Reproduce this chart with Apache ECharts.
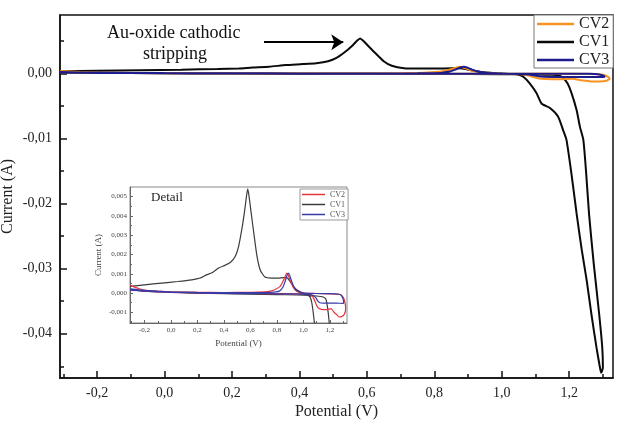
<!DOCTYPE html>
<html>
<head>
<meta charset="utf-8">
<script src="https://cdn.jsdelivr.net/npm/echarts@6/dist/echarts.min.js"></script>
<style>
  html, body { margin: 0; padding: 0; background: #fff; }
  #chart { width: 619px; height: 428px; }
</style>
</head>
<body>
<div id="chart"></div>
<script>
// CV1 (first cycle) - potential (V) / current (A)
const cv1Potential = [-0.31, -0.2, -0.07, 0.05, 0.157, 0.22, 0.26, 0.31, 0.36, 0.41, 0.45, 0.485, 0.51, 0.535, 0.555, 0.57, 0.58, 0.59, 0.605, 0.624, 0.65, 0.674, 0.71, 0.76, 0.81, 0.85, 0.875, 0.9, 0.94, 0.98, 1.02, 1.05,
  1.064, 1.083, 1.103, 1.118, 1.143, 1.167, 1.182, 1.192, 1.207, 1.222, 1.237, 1.252, 1.266, 1.281, 1.29, 1.295,
  1.3, 1.298, 1.289, 1.273, 1.259, 1.25, 1.242, 1.232, 1.222, 1.207, 1.195, 1.182, 1.17, 1.15,
  1.1, 1.0, 0.8, 0.6, 0.4, 0.2, 0.0, -0.2, -0.31]
const cv1Current = [0.00035, 0.00043, 0.00052, 0.0006, 0.00069, 0.00078, 0.00092, 0.00105, 0.0013, 0.00145, 0.0016, 0.0019, 0.0024, 0.0033, 0.0042, 0.005, 0.0054, 0.005, 0.0042, 0.0032, 0.0019, 0.0012, 0.00083, 0.00078, 0.00078, 0.0008, 0.0008, 0.0006, 0.00023, 0.00005, -0.00005, -0.0002,
  -0.0005, -0.0015, -0.003, -0.0046, -0.0053, -0.0066, -0.0087, -0.0102, -0.0155, -0.0215, -0.027, -0.0318, -0.037, -0.0421, -0.0448, -0.046,
  -0.0452, -0.042, -0.037, -0.0293, -0.0216, -0.015, -0.0102, -0.0082, -0.0056, -0.003, -0.0015, -0.0007, -0.0003, -0.0002,
  -0.00015, -0.0001, -0.00008, -0.00005, -0.00003, 0.0, 0.00005, 0.0001, 0.00018]

// CV2
const cv2Potential = [-0.31, -0.25, -0.2, -0.1, 0.0, 0.2, 0.4, 0.6, 0.7, 0.75, 0.79, 0.825, 0.85, 0.865, 0.875, 0.888, 0.9, 0.92, 0.94, 0.97, 1.0, 1.1, 1.2, 1.27, 1.3, 1.315, 1.32, 1.31, 1.29, 1.27, 1.25, 1.23, 1.21, 1.17, 1.13, 1.11, 1.095, 1.08, 1.06, 1.0, 0.8, 0.6, 0.4, 0.2, 0.0, -0.2, -0.31]
const cv2Current = [0.0004, 0.00025, 0.00015, 0.0001, 0.00007, 0.00004, 0.00003, 0.00004, 0.00006, 0.0001, 0.0002, 0.00035, 0.00066, 0.0009, 0.00104, 0.0009, 0.00066, 0.00035, 0.00015, 0.00004, 0.0, -0.00002, -0.00004, -0.00006, -0.0002, -0.0005, -0.0008, -0.0011, -0.00122, -0.00124, -0.0011, -0.00098, -0.0008, -0.00086, -0.00083, -0.00075, -0.00055, -0.0003, -0.0001, -0.00004, -0.00003, -0.00002, -0.00001, 0.0, 0.00004, 0.0001, 0.0002]

// CV3
const cv3Potential = [-0.31, -0.2, -0.1, 0.0, 0.2, 0.4, 0.6, 0.75, 0.82, 0.845, 0.862, 0.877, 0.887, 0.897, 0.912, 0.93, 0.95, 0.98, 1.0, 1.1, 1.2, 1.26, 1.285, 1.3, 1.305, 1.3, 1.25, 1.2, 1.15, 1.125, 1.11, 1.095, 1.07, 1.0, 0.8, 0.6, 0.4, 0.2, 0.0, -0.2, -0.31]
const cv3Current = [0.00022, 0.00014, 0.0001, 0.00007, 0.00004, 0.00002, 0.00002, 0.00004, 0.0001, 0.0003, 0.0006, 0.00092, 0.00104, 0.00092, 0.0006, 0.0003, 0.00013, 0.00003, 0.0, -0.00002, -0.00003, -0.00005, -0.0001, -0.0003, -0.0005, -0.00053, -0.00052, -0.00052, -0.00052, -0.0005, -0.00042, -0.00025, -0.0001, -0.00005, -0.00004, -0.00003, -0.00002, 0.0, 0.00004, 0.0001, 0.00015]

// tick values
const xTicks = [-0.2, 0, 0.2, 0.4, 0.6, 0.8, 1.0, 1.2]
const xMinorTicks = [-0.3, -0.1, 0.1, 0.3, 0.5, 0.7, 0.9, 1.1, 1.3]
const mainYTicks = [0, -0.01, -0.02, -0.03, -0.04]
const mainYMinorTicks = [0.005, -0.005, -0.015, -0.025, -0.035, -0.045]
const insetYTicks = [-0.001, 0, 0.001, 0.002, 0.003, 0.004, 0.005]
const insetYMinorTicks = [-0.0015, -0.0005, 0.0005, 0.0015, 0.0025, 0.0035, 0.0045]

// arrow of the annotation (data coords)
const arrowFrom = [0.295, 0.00483]
const arrowTo = [0.53, 0.00483]

const serif = 'Liberation Serif'
const comma = d => v => v.toFixed(d).replace('.', ',').replace(/^-0,0+$/, m => m.slice(1))
const pairs = (xs, ys) => xs.map((x, i) => [x, ys[i]])

const chart = echarts.init(document.getElementById('chart'), null, { renderer: 'canvas' })

const mkX = (grid, ticks, minor, opt) => [
  {
    type: 'value', gridIndex: grid, min: -0.31, max: 1.33, position: 'bottom',
    axisLine: { show: true, onZero: false, lineStyle: { color: opt.line, width: opt.lw } },
    axisTick: { show: true, inside: true, length: opt.tl, customValues: ticks, lineStyle: { color: opt.line, width: opt.lw } },
    axisLabel: { customValues: ticks, formatter: comma(1), fontFamily: serif, fontSize: opt.fs, color: opt.text, margin: opt.lm },
    splitLine: { show: false },
    name: 'Potential (V)', nameLocation: 'middle', nameGap: opt.ng, nameMoveOverlap: false,
    nameTextStyle: { fontFamily: serif, fontSize: opt.nfs, color: opt.text }
  },
  {
    type: 'value', gridIndex: grid, min: -0.31, max: 1.33, position: 'bottom',
    axisLine: { show: false, onZero: false },
    axisTick: { show: true, inside: true, length: opt.mtl, customValues: minor, lineStyle: { color: opt.line, width: opt.lw } },
    axisLabel: { show: false }, splitLine: { show: false }
  }
]
const mkY = (grid, min, max, ticks, minor, dec, opt) => [
  {
    type: 'value', gridIndex: grid, min: min, max: max, position: 'left',
    axisLine: { show: true, onZero: false, lineStyle: { color: opt.line, width: opt.lw } },
    axisTick: { show: true, inside: true, length: opt.tl, customValues: ticks, lineStyle: { color: opt.line, width: opt.lw } },
    axisLabel: { customValues: ticks, formatter: comma(dec), fontFamily: serif, fontSize: opt.fs, color: opt.text, margin: opt.ylm },
    splitLine: { show: false },
    name: 'Current (A)', nameLocation: 'middle', nameGap: opt.yng, nameMoveOverlap: false,
    nameTextStyle: { fontFamily: serif, fontSize: opt.nfs, color: opt.text }
  },
  {
    type: 'value', gridIndex: grid, min: min, max: max, position: 'left',
    axisLine: { show: false, onZero: false },
    axisTick: { show: true, inside: true, length: opt.mtl, customValues: minor, lineStyle: { color: opt.line, width: opt.lw } },
    axisLabel: { show: false }, splitLine: { show: false }
  }
]

const mainOpt = { line: '#111', lw: 1.5, tl: 7, mtl: 4, fs: 14, nfs: 16, text: '#222', lm: 8, ng: 26, ylm: 8, yng: 44 }
const insetOpt = { line: '#666', lw: 1, tl: 3, mtl: 2, fs: 7, nfs: 9, text: '#444', lm: 4, ng: 16, ylm: 3, yng: 27 }

const mainColors = { CV1: '#0a0a0a', CV2: '#f7931e', CV3: '#1c1c8c' }
const insetColors = { CV1: '#3c3c3c', CV2: '#e5363e', CV3: '#3a3aa6' }

const cvData = {
  CV1: pairs(cv1Potential, cv1Current),
  CV2: pairs(cv2Potential, cv2Current),
  CV3: pairs(cv3Potential, cv3Current)
}

const series = []
;['CV1', 'CV2', 'CV3'].forEach(n => {
  series.push({
    name: n, type: 'line', xAxisIndex: 0, yAxisIndex: 0,
    data: cvData[n], showSymbol: false, smooth: 0.2,
    lineStyle: { color: mainColors[n], width: 2 }, itemStyle: { color: mainColors[n] },
    z: n === 'CV3' ? 4 : 3
  })
})
;['CV1', 'CV2', 'CV3'].forEach(n => {
  series.push({
    name: n + ' detail', type: 'line', xAxisIndex: 2, yAxisIndex: 2,
    data: cvData[n], showSymbol: false, smooth: 0.2,
    lineStyle: { color: insetColors[n], width: 1.2 }, itemStyle: { color: insetColors[n] }
  })
})
// annotation arrow
series[0].markLine = {
  silent: true, symbol: ['none', 'arrow'], symbolSize: 12,
  label: { show: false },
  lineStyle: { color: '#000', width: 2, type: 'solid' },
  data: [[{ coord: arrowFrom }, { coord: arrowTo }]]
}

chart.setOption({
  animation: false,
  backgroundColor: '#fff',
  grid: [
    { left: 60, right: 6, top: 15, bottom: 50, show: true, borderColor: '#111', borderWidth: 1.5, outerBoundsMode: 'none' },
    { left: 130, right: 272, top: 187, bottom: 105, show: true, borderColor: '#888', borderWidth: 1, backgroundColor: '#fff', outerBoundsMode: 'none' }
  ],
  xAxis: [...mkX(0, xTicks, xMinorTicks, mainOpt), ...mkX(1, xTicks, xMinorTicks, insetOpt)],
  yAxis: [
    ...mkY(0, -0.0468, 0.009, mainYTicks, mainYMinorTicks, 2, mainOpt),
    ...mkY(1, -0.00155, 0.0055, insetYTicks, insetYMinorTicks, 3, insetOpt)
  ],
  legend: [
    {
      data: ['CV2', 'CV1', 'CV3'], orient: 'vertical', left: 534, top: 15,
      icon: 'rect', itemWidth: 37, itemHeight: 2.5, itemGap: 2,
      padding: [1, 4, 0, 3], borderColor: '#777', borderWidth: 1, backgroundColor: '#fff',
      textStyle: { fontFamily: serif, fontSize: 16, color: '#222', lineHeight: 16 },
      selectedMode: false
    },
    {
      data: ['CV2 detail', 'CV1 detail', 'CV3 detail'], orient: 'vertical', left: 300, top: 189,
      icon: 'rect', itemWidth: 23, itemHeight: 1.5, itemGap: 1,
      padding: [1, 3, 1, 2], borderColor: '#999', borderWidth: 1, backgroundColor: '#fff',
      formatter: name => name.split(' ')[0],
      textStyle: { fontFamily: serif, fontSize: 8, color: '#555', lineHeight: 9 },
      selectedMode: false
    }
  ],
  graphic: [
    { type: 'text', left: 107, top: 24, style: { text: 'Au-oxide cathodic', font: '18px "Liberation Serif"', fill: '#111' } },
    { type: 'text', left: 143, top: 45, style: { text: 'stripping', font: '18px "Liberation Serif"', fill: '#111' } },
    { type: 'text', left: 151, top: 191, style: { text: 'Detail', font: '13px "Liberation Serif"', fill: '#222' } }
  ],
  series: series
})
</script>
</body>
</html>
